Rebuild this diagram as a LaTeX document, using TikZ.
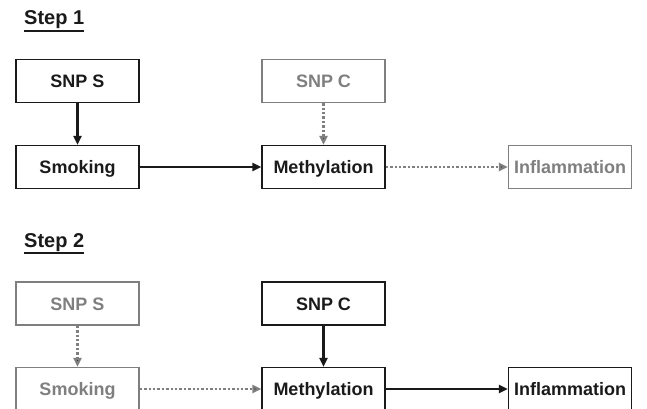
\documentclass[tikz,border=0pt]{standalone}
\usepackage{fontspec}
\setmainfont{Liberation Sans}
\usepackage{tikz}
\usetikzlibrary{arrows.meta}

\definecolor{dark}{HTML}{1A1A1A}
\definecolor{faded}{HTML}{7F7F7F}

% underlined step title
\newcommand{\steptitle}[1]{\setbox0\hbox{#1}\rlap{\rule[-7pt]{\wd0}{2.2pt}}\box0}

\tikzset{
  box/.style={draw=dark, text=dark, line width=1.4pt, minimum width=123pt,
    minimum height=43pt, inner sep=0pt, text height=13pt, text depth=0pt,
    font=\fontsize{18}{20}\selectfont\bfseries},
  fadedbox/.style={box, draw=faded, text=faded},
  steplabel/.style={anchor=base west, inner sep=0pt, text=dark,
    font=\fontsize{20}{22}\selectfont\bfseries},
  link/.style={draw=dark, line width=2.4pt, -{Triangle[length=9pt,width=8pt]}},
  fadedlink/.style={draw=faded, line width=2.6pt, dash pattern=on 2.4pt off 2pt,
    -{Triangle[length=9pt,width=8pt]}}
}

\begin{document}
\begin{tikzpicture}[x=1pt,y=1pt]
   \useasboundingbox (0,0) rectangle (647,-409);

   % step 1
   \draw (24,-25) node[steplabel] (stepone) {\steptitle{Step 1}};
   \draw (77.5,-81) node[box] (snpsone) {SNP S};
   \draw (77.5,-167) node[box] (smokingone) {Smoking};
   \draw (323.5,-81) node[fadedbox] (snpcone) {SNP C};
   \draw (323.5,-167) node[box] (methylationone) {Methylation};
   \draw (570,-167) node[fadedbox] (inflammationone) {Inflammation};

     \path[link] (snpsone) edge (smokingone);
     \path[link] (smokingone) edge (methylationone);
     \path[fadedlink] (snpcone) edge (methylationone);
     \path[fadedlink] (methylationone) edge (inflammationone);

   % step 2
   \draw (24,-247) node[steplabel] (steptwo) {\steptitle{Step 2}};
   \draw (77.5,-303.5) node[fadedbox] (snpstwo) {SNP S};
   \draw (77.5,-389) node[fadedbox] (smokingtwo) {Smoking};
   \draw (323.5,-303.5) node[box] (snpctwo) {SNP C};
   \draw (323.5,-389) node[box] (methylationtwo) {Methylation};
   \draw (570,-389) node[box] (inflammationtwo) {Inflammation};

     \path[fadedlink] (snpstwo) edge (smokingtwo);
     \path[fadedlink] (smokingtwo) edge (methylationtwo);
     \path[link] (snpctwo) edge (methylationtwo);
     \path[link] (methylationtwo) edge (inflammationtwo);

\end{tikzpicture}
\end{document}
